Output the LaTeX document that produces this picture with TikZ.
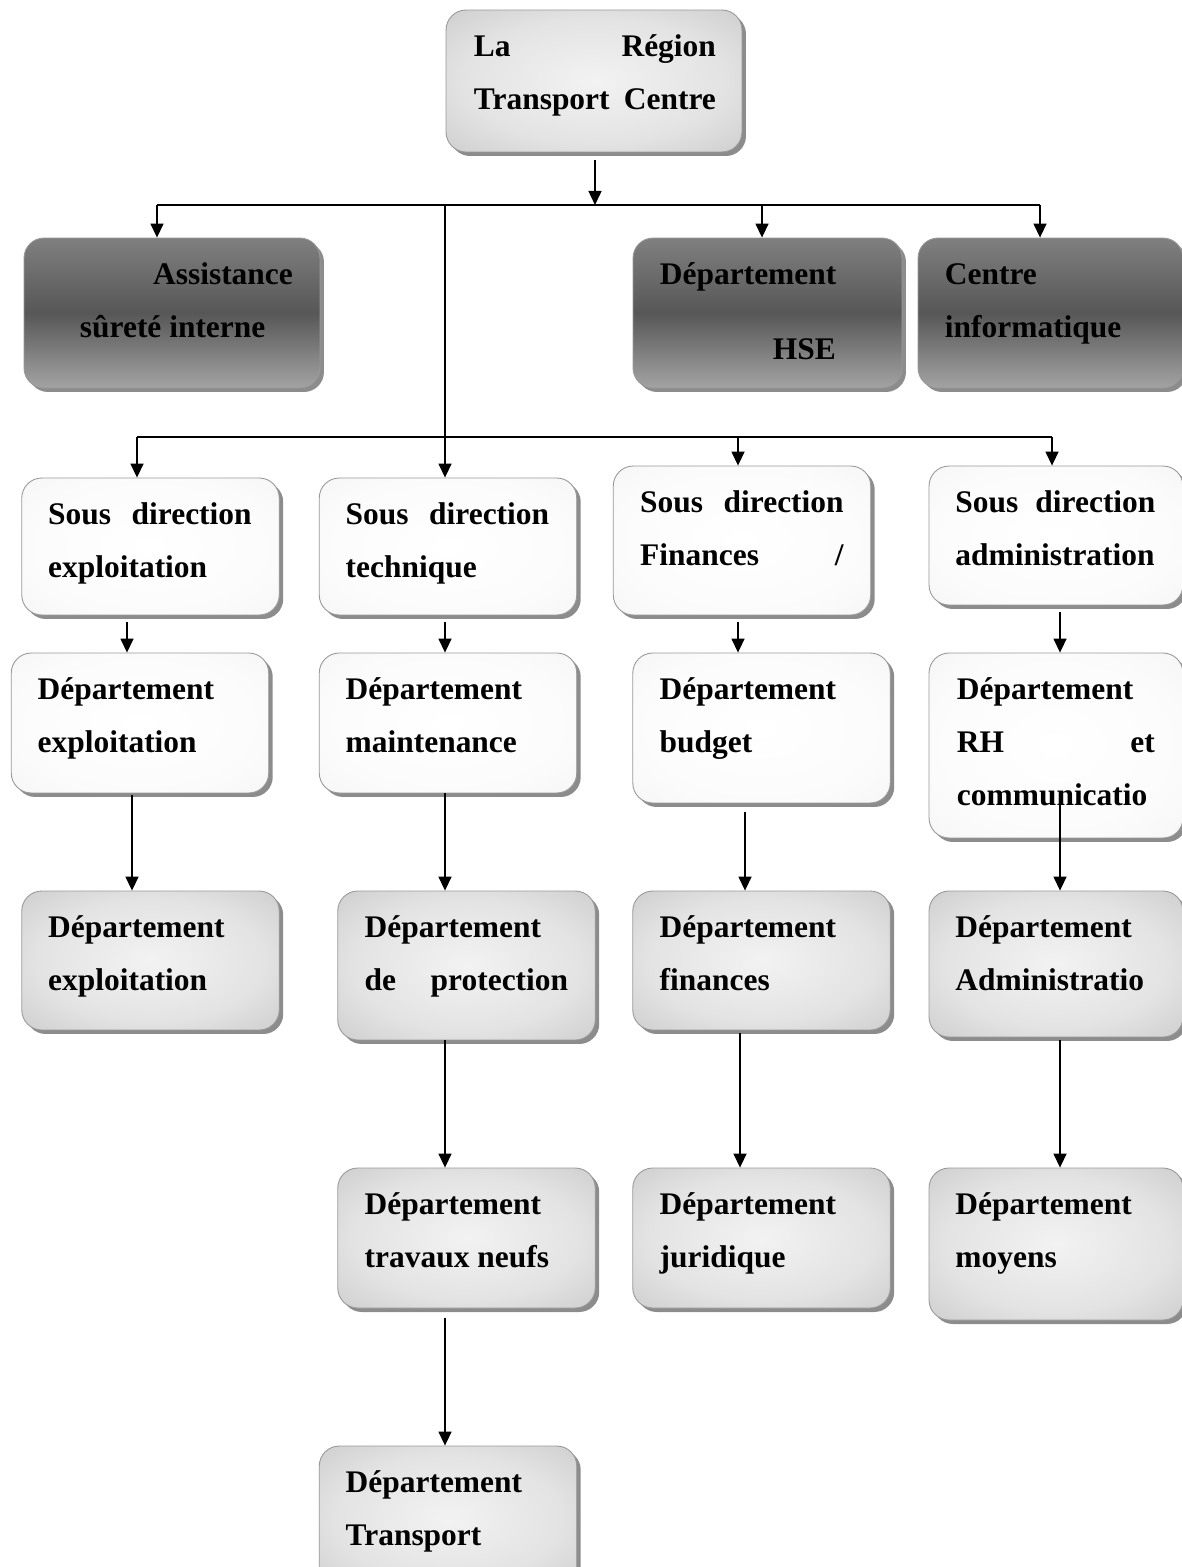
\documentclass[tikz,border=0pt]{standalone}
\usepackage{fontspec}
\setmainfont{Liberation Serif}
\usetikzlibrary{arrows.meta,shadows}

\pgfdeclareradialshading{glow}{\pgfpoint{0bp}{0bp}}{color(0bp)=(gray!10); color(22bp)=(gray!22); color(50bp)=(gray!55); color(72bp)=(gray!68)}
\pgfdeclareradialshading{soft}{\pgfpoint{0bp}{0bp}}{color(0bp)=(white); color(25bp)=(gray!3); color(50bp)=(gray!13); color(72bp)=(gray!20)}

\begin{document}
\begin{tikzpicture}[
x=0.02cm, y=-0.02cm,
bx/.style={rounded corners=0.4cm, draw=black!40, line width=0.5pt, inner sep=0pt,
           minimum width=5.15cm,
           drop shadow={shadow xshift=0.08cm, shadow yshift=-0.08cm, fill=black!45, opacity=1}},
grey/.style={bx, shade, shading=glow},
dark/.style={bx, top color=black!50, bottom color=black!36, middle color=black!66},
light/.style={bx, shade, shading=soft},
wide/.style={minimum width=5.08cm},
txt/.style={anchor=north west, inner sep=0pt, text width=4.07cm, align=flush left,
            font=\bfseries\fontsize{17.9pt}{30pt}\selectfont},
lnk/.style={-{Triangle[width=0.26cm,length=0.28cm]}, line width=0.03cm},
ln/.style={line width=0.03cm},
]
\useasboundingbox (0,0) rectangle (1181,1567);

% head
\node[grey, minimum width=5.92cm, minimum height=2.84cm] (top) at (594,81) {};
\node[txt, text width=4.84cm] (topt) at ([xshift=0.56cm,yshift=-0.2cm]top.north west) {\strut La\hfill Région\\Transport\hfill Centre};

% staff units
\node[dark, minimum width=5.92cm, minimum height=3.0cm] (assist) at (172,313) {};
\node[txt, text width=4.84cm] (assistt) at ([xshift=0.54cm,yshift=-0.2cm]assist.north west) {\strut\hspace*{\fill}Assistance\hspace*{0.32cm}\\\hspace*{0.58cm}sûreté interne};
\node[dark, minimum width=5.38cm, minimum height=3.0cm] (hse) at (767.5,313) {};
\node[txt, text width=4.3cm] (hset) at ([xshift=0.54cm,yshift=-0.2cm]hse.north west) {\strut Département\\[0.44cm]\hspace*{2.26cm}HSE};
\node[dark, minimum width=5.3cm, minimum height=3.0cm] (ci) at (1050.5,313) {};
\node[txt, text width=4.22cm] (cit) at ([xshift=0.54cm,yshift=-0.2cm]ci.north west) {\strut Centre\\informatique};

% sous directions
\node[light, minimum height=2.74cm] (sd1) at (150.5,546.5) {};
\node[txt] (sd1t) at ([xshift=0.53cm,yshift=-0.2cm]sd1.north west) {\strut Sous\hfill direction\\exploitation};
\node[light, minimum height=2.74cm] (sd2) at (448,546.5) {};
\node[txt] (sd2t) at ([xshift=0.53cm,yshift=-0.2cm]sd2.north west) {\strut Sous\hfill direction\\technique};
\node[light, minimum height=2.98cm] (sd3) at (742,540.5) {};
\node[txt] (sd3t) at ([xshift=0.54cm,yshift=-0.2cm]sd3.north west) {\strut Sous\hfill direction\\Finances\hfill /};
\node[light, wide, minimum height=2.78cm] (sd4) at (1056,535.5) {};
\node[txt, text width=4.0cm] (sd4t) at ([xshift=0.53cm,yshift=-0.2cm]sd4.north west) {\strut Sous\hfill direction\\administration};

% departements
\node[light, minimum height=2.8cm] (de1) at (140,723) {};
\node[txt] (de1t) at ([xshift=0.53cm,yshift=-0.2cm]de1.north west) {\strut Département\\exploitation};
\node[light, minimum height=2.8cm] (dm) at (448,723) {};
\node[txt] (dmt) at ([xshift=0.53cm,yshift=-0.2cm]dm.north west) {\strut Département\\maintenance};
\node[light, minimum height=3.0cm] (db) at (761.5,728) {};
\node[txt] (dbt) at ([xshift=0.54cm,yshift=-0.2cm]db.north west) {\strut Département\\budget};
\node[light, wide, minimum height=3.7cm] (drh) at (1056,745.5) {};
\node[txt, text width=3.96cm] (drht) at ([xshift=0.56cm,yshift=-0.2cm]drh.north west) {\strut Département\\RH\hfill et\\communicatio};

\node[grey, minimum height=2.78cm] (de2) at (150.5,960.5) {};
\node[txt] (de2t) at ([xshift=0.53cm,yshift=-0.2cm]de2.north west) {\strut Département\\exploitation};
\node[grey, minimum height=2.98cm] (dp) at (466.5,965.5) {};
\node[txt] (dpt) at ([xshift=0.54cm,yshift=-0.2cm]dp.north west) {\strut Département\\de\hfill protection};
\node[grey, minimum height=2.78cm] (df) at (761.5,960.5) {};
\node[txt] (dft) at ([xshift=0.54cm,yshift=-0.2cm]df.north west) {\strut Département\\finances};
\node[grey, wide, minimum height=2.92cm] (da) at (1056,964) {};
\node[txt, text width=4.0cm] (dat) at ([xshift=0.53cm,yshift=-0.2cm]da.north west) {\strut Département\\Administratio};

\node[grey, minimum height=2.8cm] (dt) at (466.5,1238) {};
\node[txt] (dtt) at ([xshift=0.54cm,yshift=-0.2cm]dt.north west) {\strut Département\\travaux neufs};
\node[grey, minimum height=2.8cm] (dj) at (761.5,1238) {};
\node[txt] (djt) at ([xshift=0.54cm,yshift=-0.2cm]dj.north west) {\strut Département\\juridique};
\node[grey, wide, minimum height=3.04cm] (dmo) at (1056,1244) {};
\node[txt, text width=4.0cm] (dmot) at ([xshift=0.53cm,yshift=-0.2cm]dmo.north west) {\strut Département\\moyens};

\node[grey, minimum height=2.88cm] (dtr) at (448,1518) {};
\node[txt] (dtrt) at ([xshift=0.53cm,yshift=-0.2cm]dtr.north west) {\strut Département\\Transport};

% buses
\coordinate (b1) at (595,205);
\coordinate (b2) at (445,437);

\draw[lnk, shorten <=0.16cm] (top.south -| b1) -- (b1);
\draw[ln] (b1 -| 157,0) -- (b1 -| 1040,0);
\draw[lnk] (b1 -| 157,0) -- (assist.north -| 157,0);
\draw[lnk] (b1 -| 762,0) -- (hse.north -| 762,0);
\draw[lnk] (b1 -| 1040,0) -- (ci.north -| 1040,0);
\draw[ln] (b1 -| b2) -- (b2);

\draw[ln] (b2 -| 137,0) -- (b2 -| 1052,0);
\draw[lnk] (b2 -| 137,0) -- (sd1.north -| 137,0);
\draw[lnk] (b2) -- (sd2.north -| b2);
\draw[lnk] (b2 -| 738,0) -- (sd3.north -| 738,0);
\draw[lnk] (b2 -| 1052,0) -- (sd4.north -| 1052,0);

% columns
\draw[lnk, shorten <=0.14cm] (sd1.south -| 127,0) -- (de1.north -| 127,0);
\draw[lnk, shorten <=0.14cm] (sd2.south -| 445,0) -- (dm.north -| 445,0);
\draw[lnk, shorten <=0.14cm] (sd3.south -| 738,0) -- (db.north -| 738,0);
\draw[lnk, shorten <=0.14cm] (sd4.south -| 1060,0) -- (drh.north -| 1060,0);

\draw[lnk, shorten <=0.04cm] (de1.south -| 132,0) -- (de2.north -| 132,0);
\draw[lnk] (dm.south -| 445,0) -- (dp.north -| 445,0);
\draw[lnk, shorten <=0.18cm] (db.south -| 745,0) -- (df.north -| 745,0);
\draw[lnk, shorten <=-0.76cm] (drh.south -| 1060,0) -- (da.north -| 1060,0);

\draw[lnk] (dp.south -| 445,0) -- (dt.north -| 445,0);
\draw[lnk, shorten <=0.06cm] (df.south -| 740,0) -- (dj.north -| 740,0);
\draw[lnk, shorten <=0.06cm] (da.south -| 1060,0) -- (dmo.north -| 1060,0);

\draw[lnk, shorten <=0.2cm] (dt.south -| 445,0) -- (dtr.north -| 445,0);
\end{tikzpicture}
\end{document}
